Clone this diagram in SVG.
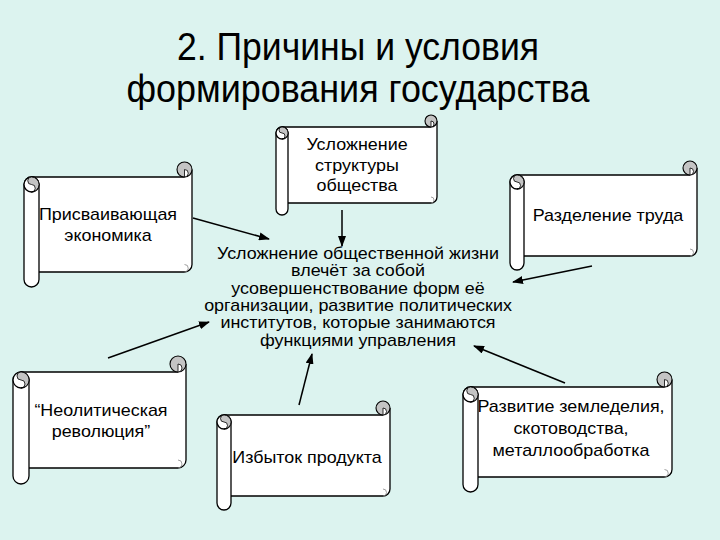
<svg xmlns="http://www.w3.org/2000/svg" width="720" height="540" viewBox="0 0 720 540">
<defs>
<style>
.bg{fill:#dcf3ef}
.paper{fill:#fff;stroke:none}
.edge{fill:none;stroke:#000;stroke-width:1.3}
.roll{fill:#fff;stroke:#000;stroke-width:1.3}
.curl{fill:#c4c4c4;stroke:#000;stroke-width:1.1}
.shade{fill:#c4c4c4;stroke:#000;stroke-width:0.8}
.half{fill:#fff;stroke:#000;stroke-width:0.8}
.thin{fill:none;stroke:#888;stroke-width:0.8}
.t{font-family:"Liberation Sans",Arial,sans-serif;font-size:16px;fill:#000;text-anchor:middle}
.title{font-family:"Liberation Sans",Arial,sans-serif;font-size:38px;fill:#000;text-anchor:middle}
.conn{fill:none;stroke:#000;stroke-width:1.5;marker-end:url(#ah)}
</style>
<marker id="ah" markerUnits="userSpaceOnUse" markerWidth="11" markerHeight="8" refX="10" refY="4" orient="auto">
<path d="M0,0 L11,4 L0,8 Z" fill="#000"/>
</marker>
</defs>
<rect class="bg" x="0" y="0" width="720" height="540"/>

<g id="title">
<text class="title" x="358" y="60" textLength="362" lengthAdjust="spacingAndGlyphs">2. Причины и условия</text>
<text class="title" x="358" y="102" textLength="463" lengthAdjust="spacingAndGlyphs">формирования государства</text>
</g>

<g id="node-structure">
<path class="paper" d="M 282,127 H 431 V 121 H 437 V 197 A 6 6 0 0 1 431,203 H 282 Z"/>
<path class="edge" d="M 282,127 H 431 M 437,121 V 197 A 6 6 0 0 1 431,203 H 288"/>
<path class="thin" d="M 431,203 A 3 3 0 0 0 431,197"/>
<circle class="curl" cx="431" cy="121" r="6"/>
<path class="half" d="M 431,121 A 3 3 0 0 1 431,127 Z"/>
<path class="roll" d="M 276,133 A 6 6 0 0 1 288,133 V 209 A 6 6 0 0 1 276,209 Z"/>
<circle class="roll" cx="282" cy="133" r="6"/>
<path class="shade" d="M 282,127 A 6 6 0 0 1 282,139 A 3 3 0 0 0 282,133 A 3 3 0 0 1 282,127 Z"/>
<g transform="matrix(1.12 0 0 1 -42.84 0)">
<text class="t" x="357" y="150">Усложнение</text>
<text class="t" x="357" y="171">структуры</text>
<text class="t" x="357" y="191">общества</text>
</g>
</g>

<g id="node-appropriating">
<path class="paper" d="M 31.5,177 H 184.5 V 169.5 H 192 V 264.5 A 7.5 7.5 0 0 1 184.5,272 H 31.5 Z"/>
<path class="edge" d="M 31.5,177 H 184.5 M 192,169.5 V 264.5 A 7.5 7.5 0 0 1 184.5,272 H 39"/>
<path class="thin" d="M 184.5,272 A 3.75 3.75 0 0 0 184.5,264.5"/>
<circle class="curl" cx="184.5" cy="169.5" r="7.5"/>
<path class="half" d="M 184.5,169.5 A 3.75 3.75 0 0 1 184.5,177 Z"/>
<path class="roll" d="M 24,184.5 A 7.5 7.5 0 0 1 39,184.5 V 279.5 A 7.5 7.5 0 0 1 24,279.5 Z"/>
<circle class="roll" cx="31.5" cy="184.5" r="7.5"/>
<path class="shade" d="M 31.5,177 A 7.5 7.5 0 0 1 31.5,192 A 3.75 3.75 0 0 0 31.5,184.5 A 3.75 3.75 0 0 1 31.5,177 Z"/>
<g transform="matrix(1.12 0 0 1 -12.96 0)">
<text class="t" x="108" y="220">Присваивающая</text>
<text class="t" x="108" y="241">экономика</text>
</g>
</g>

<g id="node-labour">
<path class="paper" d="M 517,175 H 690 V 168 H 697 V 249 A 7 7 0 0 1 690,256 H 517 Z"/>
<path class="edge" d="M 517,175 H 690 M 697,168 V 249 A 7 7 0 0 1 690,256 H 524"/>
<path class="thin" d="M 690,256 A 3.5 3.5 0 0 0 690,249"/>
<circle class="curl" cx="690" cy="168" r="7"/>
<path class="half" d="M 690,168 A 3.5 3.5 0 0 1 690,175 Z"/>
<path class="roll" d="M 510,182 A 7 7 0 0 1 524,182 V 263 A 7 7 0 0 1 510,263 Z"/>
<circle class="roll" cx="517" cy="182" r="7"/>
<path class="shade" d="M 517,175 A 7 7 0 0 1 517,189 A 3.5 3.5 0 0 0 517,182 A 3.5 3.5 0 0 1 517,175 Z"/>
<g transform="matrix(1.12 0 0 1 -72.96 0)">
<text class="t" x="608" y="221">Разделение труда</text>
</g>
</g>

<g id="node-neolithic">
<path class="paper" d="M 21,372 H 178 V 364 H 186 V 460 A 8 8 0 0 1 178,468 H 21 Z"/>
<path class="edge" d="M 21,372 H 178 M 186,364 V 460 A 8 8 0 0 1 178,468 H 29"/>
<path class="thin" d="M 178,468 A 4 4 0 0 0 178,460"/>
<circle class="curl" cx="178" cy="364" r="8"/>
<path class="half" d="M 178,364 A 4 4 0 0 1 178,372 Z"/>
<path class="roll" d="M 13,380 A 8 8 0 0 1 29,380 V 476 A 8 8 0 0 1 13,476 Z"/>
<circle class="roll" cx="21" cy="380" r="8"/>
<path class="shade" d="M 21,372 A 8 8 0 0 1 21,388 A 4 4 0 0 0 21,380 A 4 4 0 0 1 21,372 Z"/>
<g transform="matrix(1.12 0 0 1 -12.12 0)">
<text class="t" x="101" y="416">“Неолитическая</text>
<text class="t" x="101" y="437">революция”</text>
</g>
</g>

<g id="node-surplus">
<path class="paper" d="M 224,415 H 383 V 408 H 390 V 489 A 7 7 0 0 1 383,496 H 224 Z"/>
<path class="edge" d="M 224,415 H 383 M 390,408 V 489 A 7 7 0 0 1 383,496 H 231"/>
<path class="thin" d="M 383,496 A 3.5 3.5 0 0 0 383,489"/>
<circle class="curl" cx="383" cy="408" r="7"/>
<path class="half" d="M 383,408 A 3.5 3.5 0 0 1 383,415 Z"/>
<path class="roll" d="M 217,422 A 7 7 0 0 1 231,422 V 503 A 7 7 0 0 1 217,503 Z"/>
<circle class="roll" cx="224" cy="422" r="7"/>
<path class="shade" d="M 224,415 A 7 7 0 0 1 224,429 A 3.5 3.5 0 0 0 224,422 A 3.5 3.5 0 0 1 224,415 Z"/>
<g transform="matrix(1.12 0 0 1 -36.84 0)">
<text class="t" x="307" y="463">Избыток продукта</text>
</g>
</g>

<g id="node-agriculture">
<path class="paper" d="M 470.5,387 H 664.5 V 379.5 H 672 V 469.5 A 7.5 7.5 0 0 1 664.5,477 H 470.5 Z"/>
<path class="edge" d="M 470.5,387 H 664.5 M 672,379.5 V 469.5 A 7.5 7.5 0 0 1 664.5,477 H 478"/>
<path class="thin" d="M 664.5,477 A 3.75 3.75 0 0 0 664.5,469.5"/>
<circle class="curl" cx="664.5" cy="379.5" r="7.5"/>
<path class="half" d="M 664.5,379.5 A 3.75 3.75 0 0 1 664.5,387 Z"/>
<path class="roll" d="M 463,394.5 A 7.5 7.5 0 0 1 478,394.5 V 484.5 A 7.5 7.5 0 0 1 463,484.5 Z"/>
<circle class="roll" cx="470.5" cy="394.5" r="7.5"/>
<path class="shade" d="M 470.5,387 A 7.5 7.5 0 0 1 470.5,402 A 3.75 3.75 0 0 0 470.5,394.5 A 3.75 3.75 0 0 1 470.5,387 Z"/>
<g transform="matrix(1.12 0 0 1 -68.52 0)">
<text class="t" x="571" y="412">Развитие земледелия,</text>
<text class="t" x="571" y="434">скотоводства,</text>
<text class="t" x="571" y="456">металлообработка</text>
</g>
</g>

<g id="node-center">
<g transform="matrix(1.12 0 0 1 -42.96 0)">
<text class="t" x="358" y="259">Усложнение общественной жизни</text>
<text class="t" x="358" y="276.5">влечёт за собой</text>
<text class="t" x="358" y="294">усовершенствование форм её</text>
<text class="t" x="358" y="311">организации, развитие политических</text>
<text class="t" x="358" y="328.5">институтов, которые занимаются</text>
<text class="t" x="358" y="346">функциями управления</text>
</g>
</g>

<g id="connectors">
<path class="conn" d="M 193,218 L 269,239"/>
<path class="conn" d="M 342,210 L 342,246"/>
<path class="conn" d="M 592,266 L 513,282"/>
<path class="conn" d="M 108,358 L 209,322"/>
<path class="conn" d="M 299,405 L 312,354"/>
<path class="conn" d="M 565,383 L 474,346"/>
</g>
</svg>
